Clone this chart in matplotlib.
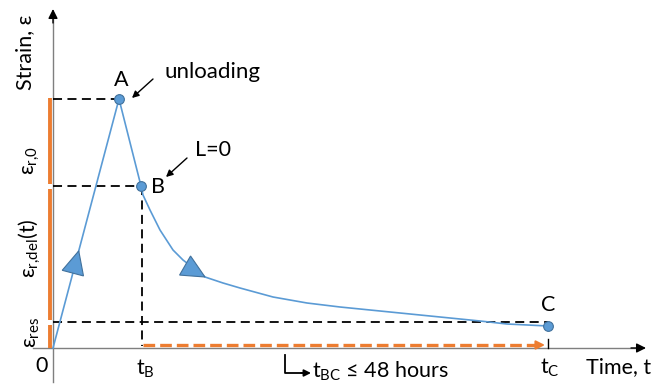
import numpy as np
import matplotlib
matplotlib.use("Agg")
import matplotlib.pyplot as plt
from matplotlib.patches import Polygon

plt.rcParams['font.family'] = ['Lato', 'DejaVu Sans']
plt.rcParams['mathtext.fontset'] = 'custom'
plt.rcParams['mathtext.rm'] = 'Lato'
plt.rcParams['mathtext.it'] = 'Lato:italic'

# ---- data (schematic units) ----
t_A, eps_A = 66, 249
t_B, eps_B = 88, 162
t_C, eps_C = 495, 22
eps_res = 26
curve_t = [88, 90, 97, 107, 120, 130, 152, 170, 187, 220, 254, 287, 307,
           327, 377, 427, 454, 495]
curve_eps = [162, 153, 138, 118, 98, 88, 71, 65, 60, 51, 45, 41, 39,
             37, 32, 27, 24, 22]
point_labels = ["A", "B", "C"]

BLUE = '#5B9BD5'
BLUE_EDGE = '#41719C'
ORANGE = '#ED7D31'
FS = 15.5

fig = plt.figure(figsize=(6.66, 3.86), dpi=100)
ax = fig.add_axes([0, 0, 1, 1])
ax.set_xlim(-53, 613)
ax.set_ylim(-38, 348)
ax.axis('off')

# axes
ax.plot([0, 0], [-34, 330], color='#7f7f7f', lw=1.0, zorder=2)
ax.annotate('', xy=(0, 339), xytext=(0, 325),
            arrowprops=dict(arrowstyle='-|>', color='black', lw=1.0,
                            mutation_scale=14, shrinkA=0, shrinkB=0))
ax.plot([-20, 585], [0, 0], color='#7f7f7f', lw=1.0, zorder=2)
ax.annotate('', xy=(593, 0), xytext=(578, 0),
            arrowprops=dict(arrowstyle='-|>', color='black', lw=1.0,
                            mutation_scale=14, shrinkA=0, shrinkB=0))

# orange bars on the strain axis
gap = 2.5
bars = [(eps_B + gap, eps_A + 1), (eps_res + gap, eps_B - gap), (0, eps_res - gap)]
for lo, hi in bars:
    ax.plot([-3.5, -3.5], [lo, hi], color=ORANGE, lw=2.8, solid_capstyle='butt', zorder=3)

# black dashed guide lines
dash = (0, (5, 3))
ax.plot([0, t_A], [eps_A, eps_A], color='black', lw=1.3, ls=dash, zorder=3)
ax.plot([0, t_B], [eps_B, eps_B], color='black', lw=1.3, ls=dash, zorder=3)
ax.plot([0, t_C], [eps_res, eps_res], color='black', lw=1.3, ls=dash, zorder=3)
ax.plot([t_B + 1, t_B + 1], [eps_B, 2], color='black', lw=1.3, ls=dash, zorder=3)

# orange dashed time arrow
ax.plot([t_B + 2, t_C - 12], [3, 3], color=ORANGE, lw=2.4, ls=(0, (3.5, 1.5)), zorder=3)
ax.annotate('', xy=(t_C - 3, 3), xytext=(t_C - 14, 3),
            arrowprops=dict(arrowstyle='-|>', color=ORANGE, lw=1.5,
                            mutation_scale=13, shrinkA=0, shrinkB=0), zorder=4)
ax.plot([t_C, t_C], [0, 9], color='black', lw=1.0, zorder=4)

# blue strain path
ax.plot([0, t_A, t_B], [0, eps_A, eps_B], color=BLUE, lw=1.2, zorder=5)
ax.plot(curve_t, curve_eps, color=BLUE, lw=1.2, zorder=5)
ax.plot([t_A, t_B, t_C], [eps_A, eps_B, eps_C], ls='none', marker='o', ms=7,
        mfc=BLUE, mec=BLUE_EDGE, mew=0.8, zorder=6)


def arrow_head(tip, direction, length=23, width=22):
    d = np.asarray(direction, float)
    d /= np.hypot(*d)
    n = np.array([-d[1], d[0]])
    tip = np.asarray(tip, float)
    base = tip - d * length
    pts = [tip, base + n * width / 2, base - n * width / 2]
    ax.add_patch(Polygon(pts, closed=True, fc=BLUE, ec=BLUE_EDGE, lw=0.8, zorder=7))


arrow_head((0.39 * t_A, 0.39 * eps_A), (t_A, eps_A))
i = curve_t.index(152)
arrow_head((curve_t[i], curve_eps[i]),
           (curve_t[i + 1] - curve_t[i - 1], curve_eps[i + 1] - curve_eps[i - 1]))

# labels
ax.text(-28, 296, 'Strain, ε', rotation=90, ha='center', va='center', fontsize=FS)
ax.text(-21, 188, r'$\mathregular{ε_{r{,}0}}$', rotation=90, ha='center', va='center', fontsize=FS)
ax.text(-23, 100, r'$\mathregular{ε_{r{,}del}(t)}$', rotation=90, ha='center', va='center', fontsize=FS)
ax.text(-21, 16, r'$\mathregular{ε_{res}}$', rotation=90, ha='center', va='center', fontsize=FS)
ax.text(-11, -18, '0', ha='center', va='center', fontsize=FS)
ax.text(92, -21, r'$\mathregular{t_B}$', ha='center', va='center', fontsize=FS)
ax.text(497, -20, r'$\mathregular{t_C}$', ha='center', va='center', fontsize=FS)
ax.text(566, -19, 'Time, t', ha='center', va='center', fontsize=FS)
ax.text(68, 268, point_labels[0], ha='center', va='center', fontsize=FS)
ax.text(105, 161, point_labels[1], ha='center', va='center', fontsize=FS)
ax.text(495, 43, point_labels[2], ha='center', va='center', fontsize=FS)
ax.text(160, 276, 'unloading', ha='center', va='center', fontsize=FS + 0.5)
ax.text(160, 198, 'L=0', ha='center', va='center', fontsize=FS)

ax.annotate('', xy=(79, 250), xytext=(100, 269),
            arrowprops=dict(arrowstyle='-|>', color='black', lw=1.0,
                            mutation_scale=10, shrinkA=0, shrinkB=0))
ax.annotate('', xy=(113, 171), xytext=(134, 190),
            arrowprops=dict(arrowstyle='-|>', color='black', lw=1.0,
                            mutation_scale=10, shrinkA=0, shrinkB=0))

# t_BC note
ax.plot([232, 232, 250], [-7, -25, -25], color='black', lw=1.3)
ax.annotate('', xy=(258, -25), xytext=(248, -25),
            arrowprops=dict(arrowstyle='-|>', color='black', lw=1.3,
                            mutation_scale=10, shrinkA=0, shrinkB=0))
ax.text(259, -23, r'$\mathregular{t_{BC}}$' + ' ≤ 48 hours', ha='left', va='center', fontsize=FS)

fig.savefig('out.png', dpi=100)
